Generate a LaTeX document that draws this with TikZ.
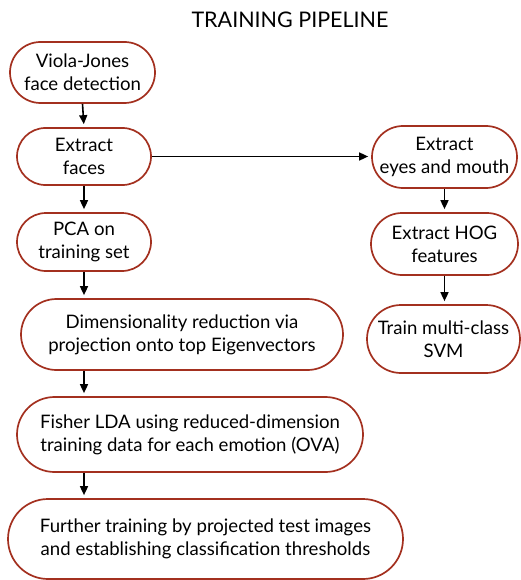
\documentclass[tikz,border=0pt]{standalone}
\usepackage{fontspec}
\setmainfont{Lato}
\usetikzlibrary{arrows.meta}
\definecolor{boxred}{HTML}{A3301F}
\begin{document}
\begin{tikzpicture}[x=1pt,y=-1pt,
  stage/.style={draw=boxred, line width=1.7pt, align=center, inner sep=0pt,
    font=\fontsize{18.6}{23}\selectfont},
  flow/.style={line width=1.6pt, -{Triangle[length=9pt,width=8pt]}, shorten >=3pt}]
\useasboundingbox (0,0) rectangle (521,580);
\clip (0,0) rectangle (521,580);

\node[font=\fontsize{21.5}{25}\selectfont] (title) at (290,20) {TRAINING PIPELINE};

\node[stage, minimum width=145pt, minimum height=61pt, rounded corners=30.5pt]
  (vj) at (82.5,72.5) {Viola-Jones\\face detection};
\node[stage, minimum width=134pt, minimum height=57pt, rounded corners=28.5pt]
  (faces) at (84,156.5) {Extract\\faces};
\node[stage, minimum width=145pt, minimum height=62pt, rounded corners=31pt]
  (eyes) at (444.5,157) {Extract\\eyes and mouth};
\node[stage, minimum width=134pt, minimum height=58pt, rounded corners=29pt]
  (pca) at (84,242) {PCA on\\training set};
\node[stage, minimum width=147pt, minimum height=62pt, rounded corners=31pt]
  (hog) at (444.5,244) {Extract HOG\\features};
\node[stage, minimum width=322pt, minimum height=71pt, rounded corners=35.5pt]
  (dim) at (182,334.5) {Dimensionality reduction via\\projection onto top Eigenvectors};
\node[stage, minimum width=153pt, minimum height=68pt, rounded corners=34pt]
  (svm) at (443.5,339) {Train multi-class\\SVM};
\node[stage, minimum width=346pt, minimum height=75pt, rounded corners=37.5pt]
  (lda) at (190,434.5) {Fisher LDA using reduced-dimension\\training data for each emotion (OVA)};
\node[stage, minimum width=395pt, minimum height=80pt, rounded corners=40pt]
  (further) at (205.5,539) {Further training by projected test images\\and establishing classification thresholds};

\draw[flow] (vj.south) -- (faces.north);
\draw[flow] (faces.east) -- (faces.east -| eyes.west);
\draw[flow] (faces.south) -- (pca.north);
\draw[flow] (pca.south) -- (pca.south |- dim.north);
\draw[flow] (pca.south |- dim.south) -- (pca.south |- lda.north);
\draw[flow] (pca.south |- lda.south) -- (pca.south |- further.north);
\draw[flow] (eyes.south) -- (hog.north);
\draw[flow] (hog.south) -- (hog.south |- svm.north);
\end{tikzpicture}
\end{document}
